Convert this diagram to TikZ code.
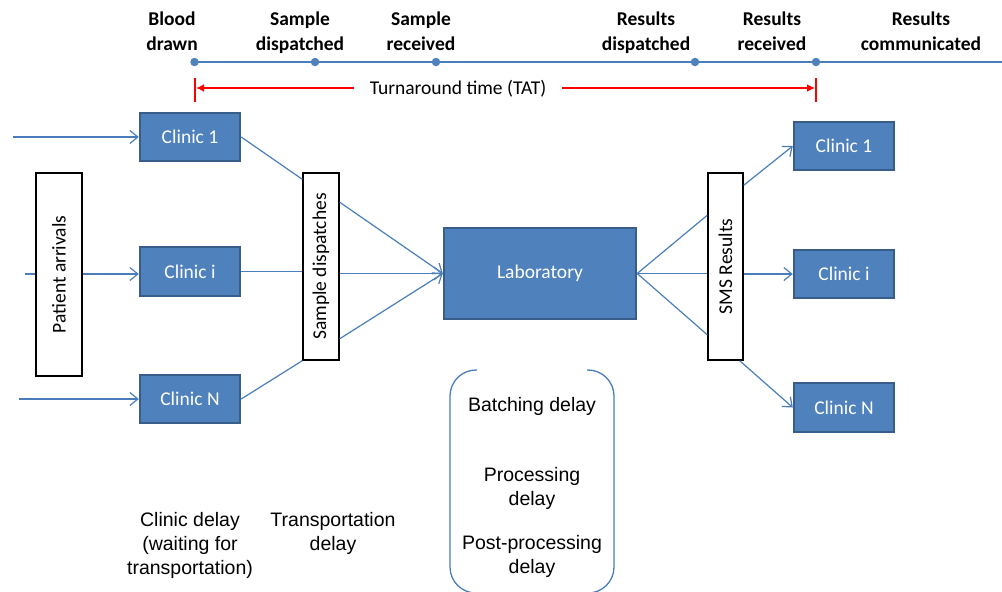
\documentclass[tikz,border=0pt]{standalone}
\usepackage{fontspec}
\setmainfont{Carlito}
\newfontfamily\arialf{Liberation Sans}
\usetikzlibrary{arrows.meta,calc}
\definecolor{boxfill}{HTML}{4F81BD}
\definecolor{boxedge}{HTML}{385D8A}
\definecolor{conn}{HTML}{4A7EBB}
\definecolor{tatred}{HTML}{FF0000}
\tikzset{
  bluebox/.style={draw=boxedge, fill=boxfill, line width=2.4pt, text=white,
    minimum width=100pt, minimum height=48pt, inner sep=0pt,
    font=\fontsize{19.5}{24}\selectfont},
  whitebox/.style={draw=black, fill=white, line width=1.5pt, inner sep=0pt,
    font=\fontsize{19.5}{24}\selectfont},
  link/.style={draw=conn, line width=1.2pt},
  linkarrow/.style={link, -{Straight Barb[length=8pt,width=13pt,line width=1.2pt]}},
  evlabel/.style={font=\bfseries\fontsize{19.5}{25}\selectfont, align=center, inner sep=0pt},
  dot/.style={circle, fill=boxfill, draw=none, minimum size=8.5pt, inner sep=0pt},
  delaytext/.style={font=\arialf\fontsize{19.5}{24}\selectfont, align=center, inner sep=0pt},
  tatline/.style={draw=tatred, line width=1.8pt},
  tatbar/.style={draw=tatred, line width=2.4pt},
}
\begin{document}
\begin{tikzpicture}[x=1pt,y=-1pt]
\useasboundingbox (0,0) rectangle (1002,592);

% ---- timeline ----
\coordinate (tend) at (1002,62);
\coordinate (t0) at (194.5,62);
\coordinate (t1) at (315,62);
\coordinate (t2) at (436,62);
\coordinate (t3) at (695,62);
\coordinate (t4) at (816,62);
\draw[draw=conn, line width=1.4pt] (t0) -- (tend);
\foreach \n in {t0,t1,t2,t3,t4} \node[dot] (d\n) at (\n) {};

\node[evlabel] (l0) at (172,33) {Blood\strut\\drawn\strut};
\node[evlabel] (l1) at (300,33) {Sample\strut\\dispatched\strut};
\node[evlabel] (l2) at (421,33) {Sample\strut\\received\strut};
\node[evlabel] (l3) at (646,33) {Results\strut\\dispatched\strut};
\node[evlabel] (l4) at (772,33) {Results\strut\\received\strut};
\node[evlabel] (l5) at (921,33) {Results\strut\\communicated\strut};

% ---- TAT ----
\coordinate (barLt) at (195,78);
\coordinate (barLb) at (195,102);
\coordinate (barRt) at (816,78);
\coordinate (barRb) at (816,102);
\coordinate (barL) at (195,88);
\coordinate (barR) at (816,88);
\node[font=\fontsize{19.5}{24}\selectfont, inner xsep=16pt, inner ysep=0pt] (tat) at (458,89) {Turnaround time (TAT)};
\draw[tatbar] (barLt) -- (barLb);
\draw[tatbar] (barRt) -- (barRb);
\draw[tatline, -{Latex[length=8pt,width=8pt]}] (tat.west |- barL) -- ([xshift=1pt]barL);
\draw[tatline, -{Latex[length=8pt,width=8pt]}] (tat.east |- barR) -- ([xshift=-1pt]barR);

% ---- left side ----
\coordinate (a1) at (13,137);
\coordinate (ai) at (25,274);
\coordinate (aN) at (19,399);
\node[bluebox] (cl1) at (190,137) {Clinic 1};
\node[bluebox, minimum height=49pt] (cli) at (190,271.5) {Clinic i};
\node[bluebox] (clN) at (190,399) {Clinic N};

\draw[linkarrow] (a1) -- (a1 -| cl1.west);
\draw[linkarrow] (ai) -- (ai -| cli.west);
\draw[linkarrow] (aN) -- (aN -| clN.west);

\node[whitebox, minimum width=46pt, minimum height=203pt] (pa) at (59,274.5) {\rotatebox{90}{Patient arrivals}};

\node[whitebox, minimum width=36pt, minimum height=187pt] (sd) at (321,266.5) {\rotatebox{90}{Sample dispatches}};

\draw[link] (cl1.east) -- ([yshift=-7pt]sd.north west);
\draw[link] (cli.east) -- (cli.east -| sd.west);
\draw[link] (clN.east) -- (sd.south west);

% ---- laboratory ----
\node[bluebox, minimum width=192pt, minimum height=91pt] (lab) at (540,273.5) {Laboratory};

\draw[linkarrow] ([yshift=-30pt]sd.north east) -- (lab.west);
\draw[linkarrow] (sd.east |- lab.west) -- (lab.west);
\draw[linkarrow] ([yshift=22pt]sd.south east) -- (lab.west);

% ---- SMS ----
\node[whitebox, minimum width=35pt, minimum height=187pt] (sms) at (725.5,266.5) {\rotatebox{90}{SMS Results}};

\draw[link] (lab.east) -- ([yshift=-43pt]sms.north west);
\draw[link] (lab.east) -- (sms.west |- lab.east);
\draw[link] (lab.east) -- ([yshift=26pt]sms.south west);

% ---- right clinics ----
\node[bluebox] (cr1) at (844,146) {Clinic 1};
\node[bluebox] (cri) at (844,274) {Clinic i};
\node[bluebox, minimum height=49pt] (crN) at (844,407.5) {Clinic N};

\draw[linkarrow] ([yshift=-13pt]sms.north east) -- (cr1.west);
\draw[linkarrow] (sms.east |- cri.west) -- (cri.west);
\draw[linkarrow] ([xshift=-4pt]sms.south east) -- (crN.west);

% ---- delays ----
\node[delaytext] (cd) at (190,545) {Clinic delay\\(waiting for\\transportation)};
\node[delaytext] (td) at (333,533) {Transportation\\delay};

\coordinate (rbA) at (477,370);
\coordinate (rbB) at (587,370);
\draw[draw=conn, line width=1.3pt, rounded corners=26pt]
  (rbA) -- (450,370) -- (450,593) -- (614,593) -- (614,370) -- (rbB);
\node[delaytext] (bd) at (532,406) {Batching delay};
\node[delaytext] (pd) at (532,488) {Processing\\delay};
\node[delaytext] (ppd) at (532,556) {Post-processing\\delay};
\end{tikzpicture}
\end{document}
